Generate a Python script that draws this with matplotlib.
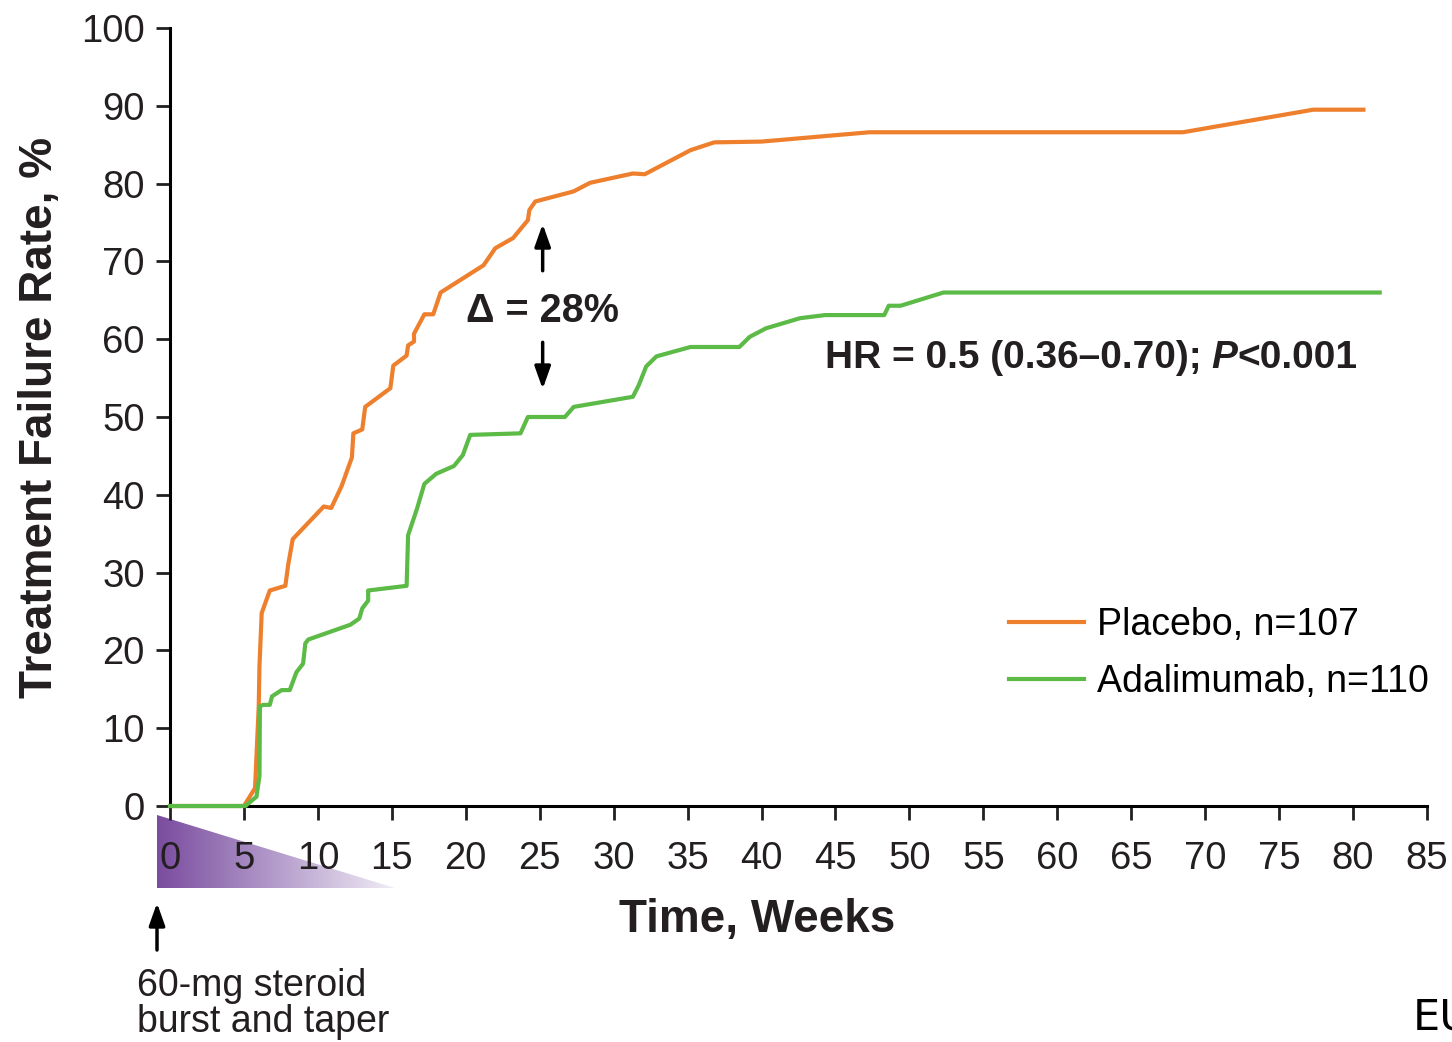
import numpy as np
import matplotlib
matplotlib.use("Agg")
import matplotlib.pyplot as plt
from matplotlib.patches import Polygon
from matplotlib.colors import LinearSegmentedColormap

plt.rcParams['font.family'] = ['Liberation Sans', 'DejaVu Sans']

# Kaplan-Meier style curves (weeks, % failure)
placebo_weeks = [0, 5.0, 5.75, 6.0, 6.05, 6.2, 6.75, 7.8, 8.0, 8.3, 9.5, 10.4, 10.9,
                 11.6, 12.3, 12.4, 13.0, 13.2, 14.9, 15.1, 16.0, 16.1, 16.5, 16.5,
                 17.2, 17.8, 18.3, 21.2, 22.0, 23.2, 24.2, 24.3, 24.7, 27.3, 28.4,
                 31.3, 32.1, 33.1, 35.2, 36.8, 40.0, 47.3, 68.5, 77.3, 80.7]
placebo_pct = [0, 0, 2.3, 12.8, 18.0, 24.8, 27.7, 28.3, 31.1, 34.3, 36.7, 38.5, 38.3,
               41.1, 44.8, 47.9, 48.4, 51.3, 53.7, 56.6, 57.9, 59.2, 59.7, 60.7,
               63.2, 63.2, 66.0, 69.5, 71.7, 73.0, 75.3, 76.6, 77.7, 79.0, 80.1,
               81.3, 81.2, 82.2, 84.3, 85.3, 85.4, 86.6, 86.6, 89.5, 89.5]

adalimumab_weeks = [0, 5.1, 5.85, 6.05, 6.08, 6.3, 6.75, 6.9, 7.55, 8.1, 8.55, 9.0,
                    9.15, 9.35, 12.2, 12.8, 13.0, 13.4, 13.4, 16.0, 16.1, 16.7, 17.2,
                    18.0, 19.2, 19.8, 20.3, 23.7, 24.2, 26.7, 27.3, 31.3, 31.7, 32.2,
                    32.9, 35.2, 38.5, 39.2, 40.3, 42.6, 44.3, 48.3, 48.6, 49.4, 52.3,
                    81.8]
adalimumab_pct = [0, 0, 1.2, 3.9, 12.8, 13.0, 13.0, 14.1, 14.9, 14.9, 17.2, 18.3,
                  20.9, 21.4, 23.3, 24.1, 25.4, 26.4, 27.7, 28.3, 34.8, 38.2, 41.4,
                  42.7, 43.7, 45.1, 47.7, 47.9, 50.0, 50.0, 51.3, 52.6, 54.1, 56.5,
                  57.8, 59.0, 59.0, 60.3, 61.4, 62.7, 63.1, 63.1, 64.3, 64.3, 66.0,
                  66.0]

x_ticks = list(range(0, 90, 5))
y_ticks = list(range(0, 110, 10))

orange = '#EE7F2D'
green = '#5CBA47'
ink = '#231f20'

fig = plt.figure(figsize=(14.52, 10.42), dpi=100)
ax = fig.add_axes([170 / 1452, 1 - 806 / 1042, 1257 / 1452, 778 / 1042])
ax.set_zorder(2)
ax.patch.set_visible(False)

ax.plot(placebo_weeks, placebo_pct, color=orange, lw=3, label='Placebo, n=107',
        solid_joinstyle='round', clip_on=False, zorder=3)
ax.plot(adalimumab_weeks, adalimumab_pct, color=green, lw=3, label='Adalimumab, n=110',
        solid_joinstyle='round', clip_on=False, zorder=3)

ax.set_xlim(0, 85)
ax.set_ylim(0, 100)
ax.set_xticks(x_ticks)
ax.set_yticks(y_ticks)
ax.spines['top'].set_visible(False)
ax.spines['right'].set_visible(False)
for s in ['left', 'bottom']:
    ax.spines[s].set_linewidth(2.2)
ax.tick_params(axis='both', direction='out', length=10, width=2, labelsize=27.5,
               colors=ink)
ax.tick_params(axis='x', pad=15)
ax.tick_params(axis='y', pad=8)

ax.set_xlabel('Time, Weeks', fontsize=33, fontweight='bold', color=ink)
ax.xaxis.set_label_coords((757 - 170) / 1257, -0.147)
ax.xaxis.label.set_va('center')
ax.set_ylabel('Treatment Failure Rate, %', fontsize=33, fontweight='bold',
              labelpad=14, color=ink)

leg = ax.legend(loc='upper left', bbox_to_anchor=(0.6555, 0.2745), frameon=False,
                fontsize=27, handlelength=2.0, handletextpad=0.35,
                labelspacing=0.55, borderaxespad=0)

# delta annotation
arrow = dict(arrowstyle='-|>,head_length=0.45,head_width=0.16', lw=2.5,
             color='black', shrinkA=0, shrinkB=0, mutation_scale=30)
ax.annotate('', xy=(25.2, 74.8), xytext=(25.2, 68.8), arrowprops=arrow)
ax.annotate('', xy=(25.2, 53.6), xytext=(25.2, 59.6), arrowprops=arrow)
ax.text(25.2, 63.6, 'Δ = 28%', fontsize=28.5, fontweight='bold', ha='center',
        va='center', color=ink)

t1 = ax.text(44.3, 57.6, 'HR = 0.5 (0.36–0.70);', fontsize=28,
             fontweight='bold', ha='left', va='center', color=ink)
t2 = ax.annotate('P', xy=(1, 0), xycoords=t1, xytext=(7, 0),
                 textcoords='offset points', fontsize=28, fontweight='bold',
                 fontstyle='italic', ha='left', va='bottom', color=ink)
ax.annotate('<0.001', xy=(1, 0), xycoords=t2, fontsize=28, fontweight='bold',
            ha='left', va='bottom', color=ink)

# steroid taper triangle below the axis
tri_ax = fig.add_axes([157 / 1452, 1 - 888 / 1042, 238 / 1452, 73 / 1042])
tri_ax.set_zorder(1)
tri_ax.axis('off')
cmap = LinearSegmentedColormap.from_list('taper', ['#7A4C9F', '#B49CCB', '#F1ECF5'])
grad = np.linspace(0, 1, 256).reshape(1, -1)
im = tri_ax.imshow(grad, cmap=cmap, extent=[0, 1, 0, 1], aspect='auto')
tri = Polygon([[0, 0], [0, 1], [1, 0]], closed=True, transform=tri_ax.transData,
              facecolor='none', edgecolor='none')
tri_ax.add_patch(tri)
im.set_clip_path(tri)
tri_ax.set_xlim(0, 1)
tri_ax.set_ylim(0, 1)

ax.annotate('', xy=(157 / 1452, 1 - 903 / 1042), xycoords='figure fraction',
            xytext=(157 / 1452, 1 - 950 / 1042), textcoords='figure fraction',
            arrowprops=dict(arrow), annotation_clip=False)

fig.text(137 / 1452, 1 - 1040 / 1042, '60-mg steroid\nburst and taper',
         fontsize=27, ha='left', va='bottom', linespacing=1.0, color=ink)
# partially cut-off text at the right edge, as in the source image
fig.text(1413 / 1452, 1 - 1030 / 1042, 'EU', fontsize=31, family='DejaVu Sans',
         ha='left', va='baseline', color='black')

fig.savefig('out.png', dpi=100)
